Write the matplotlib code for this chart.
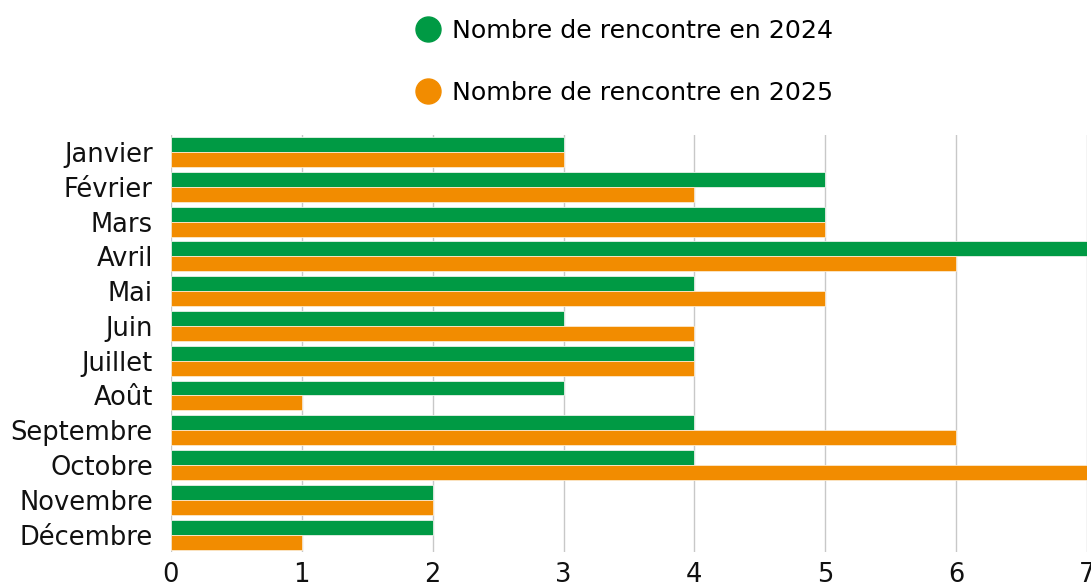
import numpy as np
import matplotlib.pyplot as plt
from matplotlib.lines import Line2D

# -----------------------------
# Data
# -----------------------------
mois = ["Janvier", "Février", "Mars", "Avril", "Mai", "Juin", "Juillet",
        "Août", "Septembre", "Octobre", "Novembre", "Décembre"]
rencontres_2024 = [3, 5, 5, 7, 4, 3, 4, 3, 4, 4, 2, 2]
rencontres_2025 = [3, 4, 5, 6, 5, 4, 4, 1, 6, 7, 2, 1]
x_ticks = [0, 1, 2, 3, 4, 5, 6, 7]

GREEN = "#009a44"
ORANGE = "#f28c00"

plt.rcParams["font.family"] = ["DejaVu Sans"]

fig = plt.figure(figsize=(10.91, 5.87), dpi=100)
ax = fig.add_axes([0.1567, 0.0596, 0.8396, 0.7111])

y = np.arange(len(mois))
h = 0.43
ax.barh(y - h / 2, rencontres_2024, height=h, color=GREEN,
        edgecolor="#e8f0e8", linewidth=0.6, zorder=3)
ax.barh(y + h / 2, rencontres_2025, height=h, color=ORANGE,
        edgecolor="#fbe8cc", linewidth=0.6, zorder=3)

ax.set_xlim(0, 7)
ax.set_ylim(len(mois) - 0.5, -0.5)
ax.set_yticks(y)
ax.set_yticklabels(mois, fontsize=18.5)
ax.set_xticks(x_ticks)
ax.set_xticklabels([str(t) for t in x_ticks], fontsize=18.5)
ax.tick_params(axis="both", length=0, colors="#111111")
ax.tick_params(axis="x", pad=7)
ax.tick_params(axis="y", pad=13)
ax.grid(axis="x", color="#c8c8c8", linewidth=1, zorder=0)
for s in ax.spines.values():
    s.set_visible(False)

handles = [
    Line2D([], [], marker="o", linestyle="", markersize=18,
           markerfacecolor=GREEN, markeredgecolor=GREEN,
           label="Nombre de rencontre en 2024"),
    Line2D([], [], marker="o", linestyle="", markersize=18,
           markerfacecolor=ORANGE, markeredgecolor=ORANGE,
           label="Nombre de rencontre en 2025"),
]
fig.legend(handles=handles, loc="center", bbox_to_anchor=(0.572, 0.895),
           frameon=False, fontsize=18.2, labelspacing=1.5, handletextpad=0.45,
           handlelength=1.0)

fig.savefig("out.png", dpi=100)
